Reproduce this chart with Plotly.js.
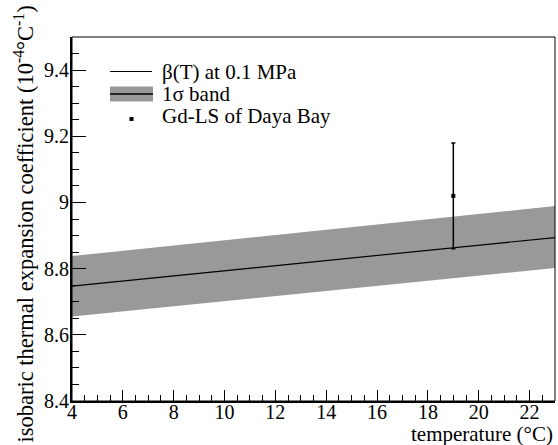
<!DOCTYPE html>
<html>
<head>
<meta charset="utf-8">
<script src="https://cdn.plot.ly/plotly-3.0.1.min.js"></script>
<style>html,body{margin:0;padding:0;background:#fff;}#chart{width:558px;height:445px;}</style>
</head>
<body>
<div id="chart"></div>
<script>
// temperature (°C)
const temps = [4, 8, 12, 16, 20, 23];
// beta(T) at 0.1 MPa (10^-4 /°C)
const beta = [8.747, 8.778, 8.809, 8.840, 8.871, 8.894];
// 1 sigma band
const bandUpper = [8.838, 8.870, 8.902, 8.934, 8.965, 8.989];
const bandLower = [8.655, 8.686, 8.717, 8.748, 8.779, 8.802];
// Gd-LS of Daya Bay measurement
const dybT = [19];
const dybBeta = [9.02];
const dybErr = [0.16];

const legendLabels = ["β(T) at 0.1 MPa", "1σ band", "Gd-LS of Daya Bay"];
const xTitle = "temperature (°C)";
const yTitle = "isobaric thermal expansion coefficient (10<sup>-4</sup>°C<sup>-1</sup>)";

const FONT = "'Liberation Serif', 'Times New Roman', 'DejaVu Serif', serif";
const W = 558, H = 445;
const mL = 72, mR = 3, mT = 37, mB = 44;
const pw = W - mL - mR, ph = H - mT - mB;
const px = v => (v - mL) / pw;
const py = v => 1 - (v - mT) / ph;

const traces = [
  {x: temps, y: bandLower, mode: 'lines', line: {width: 0, color: 'rgba(0,0,0,0)'}, hoverinfo: 'skip', showlegend: false},
  {x: temps, y: bandUpper, mode: 'lines', line: {width: 0, color: 'rgba(0,0,0,0)'}, fill: 'tonexty', fillcolor: '#999999', showlegend: false},
  {x: temps, y: beta, mode: 'lines', line: {color: '#000', width: 1.2}, showlegend: false},
  {x: dybT, y: dybBeta, mode: 'markers', marker: {symbol: 'square', size: 4, color: '#000'},
   error_y: {type: 'data', array: dybErr, visible: true, color: '#000', thickness: 1.5, width: 2}, showlegend: false}
];

const shapes = [
  {type: 'rect', xref: 'paper', yref: 'paper', x0: 0, x1: 1, y0: 0, y1: 1, line: {color: '#000', width: 1}},
  // legend symbols
  {type: 'line', xref: 'paper', yref: 'paper', x0: px(110), x1: px(152), y0: py(71.5), y1: py(71.5), line: {color: '#000', width: 1}},
  {type: 'rect', xref: 'paper', yref: 'paper', x0: px(110), x1: px(153), y0: py(86.5), y1: py(101.5), fillcolor: '#999999', line: {width: 0}},
  {type: 'line', xref: 'paper', yref: 'paper', x0: px(110), x1: px(153), y0: py(94), y1: py(94), line: {color: '#000', width: 1.5}},
  {type: 'rect', xref: 'paper', yref: 'paper', x0: px(129.5), x1: px(133.5), y0: py(117), y1: py(121), fillcolor: '#000', line: {width: 0}}
];

const legY = [71.5, 94, 116];
const annotations = legendLabels.map((t, i) => ({
  text: t, xref: 'paper', yref: 'paper', x: px(160), y: py(legY[i]), xanchor: 'left', yanchor: 'middle',
  showarrow: false, font: {family: FONT, size: 21, color: '#000'}
}));
annotations.push({
  text: xTitle, xref: 'paper', yref: 'paper', x: 1, y: py(434), xanchor: 'right', yanchor: 'middle',
  showarrow: false, font: {family: FONT, size: 21, color: '#000'}
});
annotations.push({
  text: yTitle, xref: 'paper', yref: 'paper', x: px(23), y: py(4), xanchor: 'center', yanchor: 'top',
  textangle: -90, showarrow: false, font: {family: FONT, size: 22.5, color: '#000'}
});

const layout = {
  width: W, height: H,
  margin: {l: mL, r: mR, t: mT, b: mB, pad: 0},
  paper_bgcolor: '#fff', plot_bgcolor: '#fff',
  font: {family: FONT, size: 20, color: '#000'},
  showlegend: false,
  xaxis: {
    range: [4, 23], dtick: 2, tick0: 4, ticks: 'inside', ticklen: 11, tickwidth: 1, tickcolor: '#000',
    minor: {dtick: 0.5, ticks: 'inside', ticklen: 6, tickwidth: 1, tickcolor: '#000', showgrid: false},
    showgrid: false, zeroline: false, showline: true, linewidth: 2, linecolor: '#000',
    ticklabelstandoff: -8,
    tickfont: {family: FONT, size: 20, color: '#000'}
  },
  yaxis: {
    range: [8.4, 9.5], dtick: 0.2, tick0: 8.4, ticks: 'inside', ticklen: 14, tickwidth: 1, tickcolor: '#000',
    minor: {dtick: 0.05, ticks: 'inside', ticklen: 7, tickwidth: 1, tickcolor: '#000', showgrid: false},
    showgrid: false, zeroline: false, showline: true, linewidth: 2, linecolor: '#000',
    ticklabelstandoff: -3,
    tickfont: {family: FONT, size: 20, color: '#000'}
  },
  shapes: shapes,
  annotations: annotations
};

Plotly.newPlot('chart', traces, layout, {displayModeBar: false, staticPlot: true});
</script>
</body>
</html>
